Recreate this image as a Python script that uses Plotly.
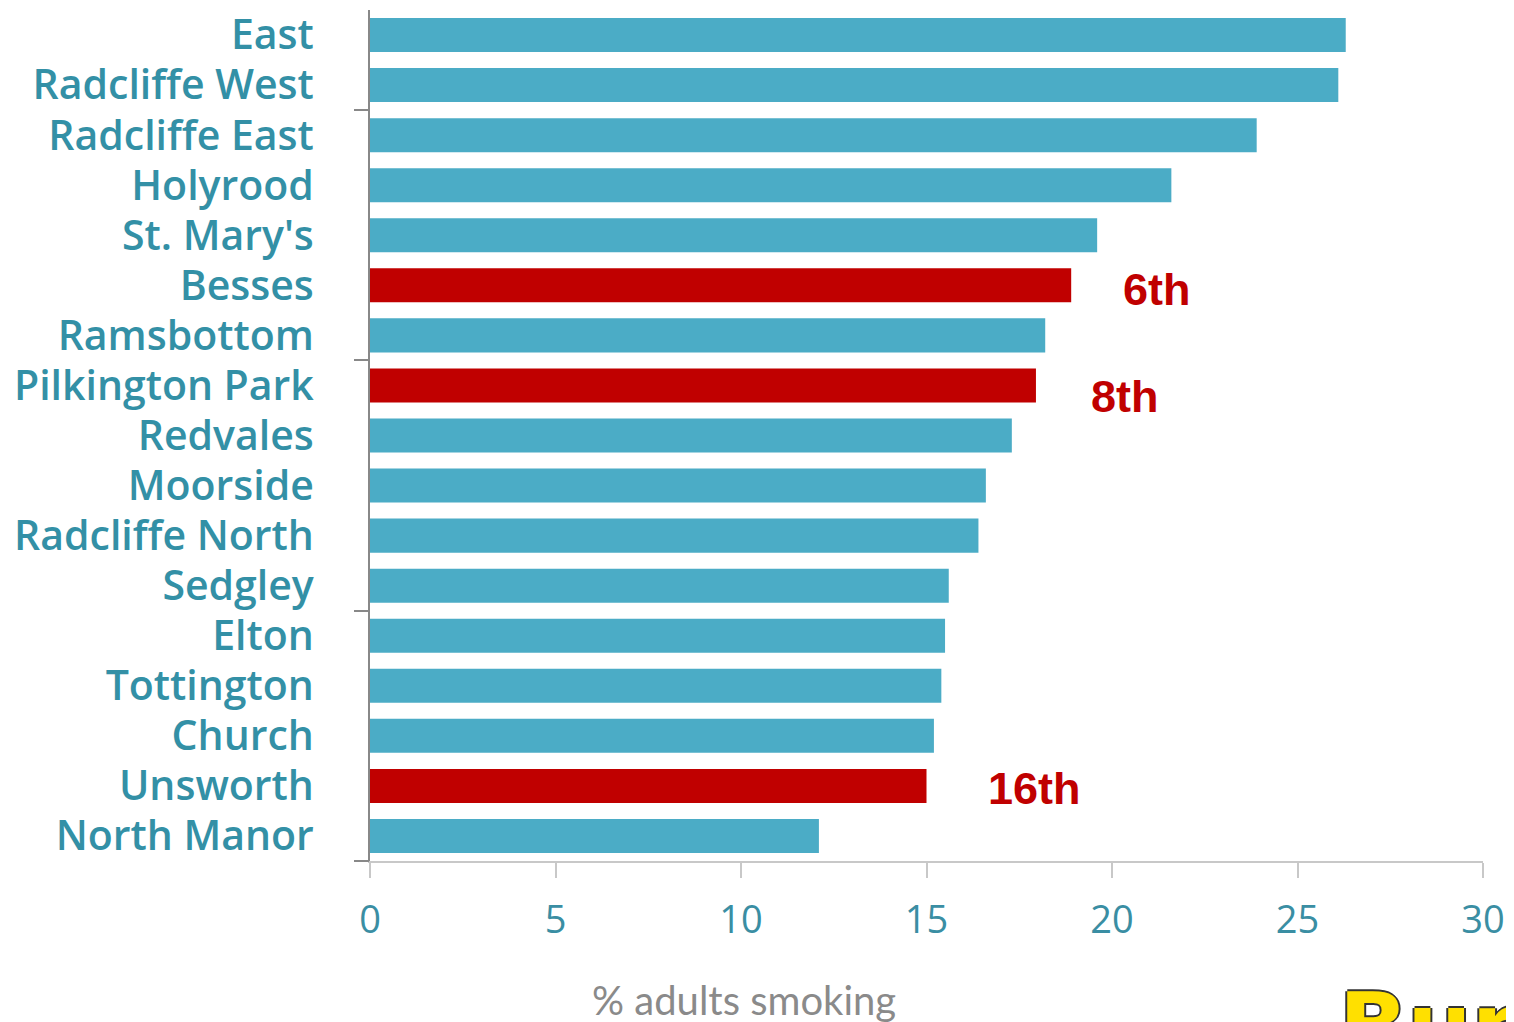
import plotly.graph_objects as go

wards = ["East", "Radcliffe West", "Radcliffe East", "Holyrood", "St. Mary's", "Besses",
         "Ramsbottom", "Pilkington Park", "Redvales", "Moorside", "Radcliffe North",
         "Sedgley", "Elton", "Tottington", "Church", "Unsworth", "North Manor"]
pct_smoking = [26.3, 26.1, 23.9, 21.6, 19.6, 18.9, 18.2, 17.95, 17.3, 16.6, 16.4,
               15.6, 15.5, 15.4, 15.2, 15.0, 12.1]
highlighted = ["Besses", "Pilkington Park", "Unsworth"]
rank_labels = ["6th", "8th", "16th"]
x_ticks = [0, 5, 10, 15, 20, 25, 30]
group_ticks = [1.5, 6.5, 11.5, 16.5]

TEAL = "#4bacc6"
RED = "#c00000"
LABEL = "#3390a6"

colors = [RED if w in highlighted else TEAL for w in wards]

fig = go.Figure()
fig.add_trace(go.Bar(
    x=pct_smoking, y=wards, orientation="h",
    marker=dict(color=colors, line=dict(width=0)),
    width=0.68, showlegend=False, hoverinfo="x+y",
))
# invisible trace on overlay axis so the group tick marks render
fig.add_trace(go.Scatter(x=[None], y=[None], yaxis="y2", showlegend=False))

# rank annotations
offsets = {"6th": (21.2, -4), "8th": (20.35, -11), "16th": (17.9, -3)}
for w, lab in zip(highlighted, rank_labels):
    fig.add_annotation(
        x=offsets[lab][0], y=w, xref="x", yref="y", text=lab, showarrow=False,
        yshift=offsets[lab][1],
        font=dict(family="Liberation Sans, Arial", size=45, color=RED, weight="bold"),
    )

# x axis title (placed left of centre as in the original)
fig.add_annotation(
    x=0.336, y=-0.163, xref="paper", yref="paper", xanchor="center", yanchor="middle",
    text="% adults smoking", showarrow=False,
    font=dict(family="Lato", size=40, color="#8a8a8a"),
)

# partial logo at bottom right
fig.add_annotation(
    x=0.869, y=-0.1305, xref="paper", yref="paper", xanchor="left", yanchor="top",
    text="Bury", showarrow=False,
    font=dict(family="DejaVu Sans", size=90, color="#ffe000", weight="bold",
              shadow="2px 0 #333, -2px 0 #333, 0 2px #333, 0 -2px #333"),
)

fig.update_layout(
    width=1514, height=1022,
    margin=dict(l=362, r=39, t=2, b=169, autoexpand=False),
    paper_bgcolor="white", plot_bgcolor="white",
    xaxis=dict(
        range=[0, 30], tickvals=x_ticks, showgrid=False, zeroline=False,
        automargin=False,
        showline=True, linecolor="#c8c8c8", linewidth=2,
        ticks="outside", ticklen=15, tickcolor="#c8c8c8", tickwidth=2,
        ticklabelstandoff=9,
        tickfont=dict(family="Open Sans", size=38, color="#3a8ea3"),
    ),
    yaxis=dict(
        categoryorder="array", categoryarray=wards, autorange=False,
        automargin=False,
        range=[16.5, -0.5], showgrid=False, zeroline=False,
        showline=True, linecolor="#888888", linewidth=2, ticks="",
        ticklabelstandoff=46,
        tickfont=dict(family="Open Sans", size=41, color=LABEL, weight=600),
    ),
    yaxis2=dict(
        overlaying="y", side="left", range=[16.5, -0.5], tickvals=group_ticks,
        automargin=False,
        showticklabels=False, ticks="outside", ticklen=15, tickcolor="#888888",
        tickwidth=2, showgrid=False, zeroline=False, showline=False,
    ),
)

fig.write_html("out.html")
